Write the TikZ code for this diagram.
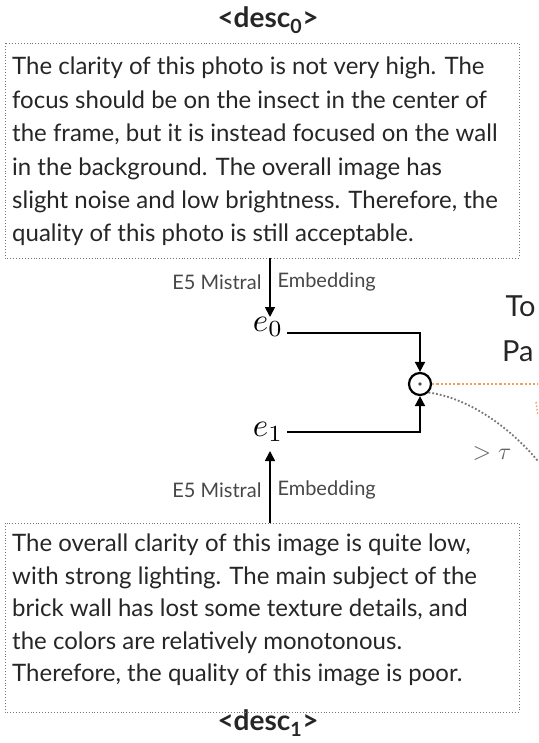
\documentclass[tikz,border=0pt]{standalone}
\usepackage{graphicx}
\usepackage{fontspec}
\setmainfont{Lato}
\usetikzlibrary{arrows.meta}
\definecolor{txt}{HTML}{262626}
\definecolor{brd}{HTML}{777777}
\definecolor{org}{HTML}{F0A060}
\begin{document}
\begin{tikzpicture}[x=1pt,y=-1pt,
  desctext/.style={anchor=north west, align=left, text=txt, inner sep=0pt},
  titletext/.style={font=\bfseries\fontsize{28}{30}\selectfont, text=txt},
  embtext/.style={font=\fontsize{20}{22}\selectfont, text=txt!85},
  conn/.style={draw=black, line width=1.7pt},
  tip/.style={-{Triangle[length=10pt,width=10pt]}},
  bigtxt/.style={font=\fontsize{29}{31}\selectfont, text=txt, anchor=west}]
\useasboundingbox (0,0) rectangle (538,743);
\clip (0,0) rectangle (538,743);
% titles
\node[titletext] (t0) at (268,20) {<desc\textsubscript{0}>};
\node[titletext] (t1) at (268,723) {<desc\textsubscript{1}>};
% boxes
\draw[draw=brd, dotted, line width=0.9pt] (5,43) rectangle (519,258);
\coordinate (b0) at (270,258);
\node[desctext, font=\fontsize{24}{33.4}\selectfont] (d0) at (12,57) {The clarity of this photo is not very high. The\\
focus should be on the insect in the center of\\
the frame, but it is instead focused on the wall\\
in the background. The overall image has\\
slight noise and low brightness. Therefore, the\\
quality of this photo is still acceptable.};
\draw[draw=brd, dotted, line width=0.9pt] (5,523) rectangle (519,712);
\coordinate (b1) at (270,523);
\node[desctext, font=\fontsize{24}{32.5}\selectfont] (d1) at (12,534) {The overall clarity of this image is quite low,\\
with strong lighting. The main subject of the\\
brick wall has lost some texture details, and\\
the colors are relatively monotonous.\\
Therefore, the quality of this image is poor.};
% vectors
\node (e0) at (268,327) {\scalebox{3.3}{$e_0$}};
\node (e1) at (268,432) {\scalebox{3.3}{$e_1$}};
\coordinate (e0t) at (270,317);
\coordinate (e1b) at (270,451);
\draw[conn, tip] (b0) -- (e0t);
\draw[conn, tip] (b1) -- (e1b);
\node[embtext, anchor=east] (l0a) at (265,282) {E5 Mistral};
\node[embtext, anchor=west] (l0b) at (274,282) {Embedding};
\node[embtext, anchor=east] (l1a) at (265,490) {E5 Mistral};
\node[embtext, anchor=west] (l1b) at (274,490) {Embedding};
% dot product
\node[draw=black, circle, line width=2.2pt, minimum size=22pt, inner sep=0pt] (dot) at (420,384) {};
\fill[black!70] (dot.center) circle (1.8pt);
\coordinate (e0r) at (287,333);
\coordinate (e1r) at (287,432);
\draw[conn, tip] (e0r) -| (dot.north);
\draw[conn, tip] (e1r) -| (dot.south);
% outgoing
\coordinate (oe) at (545,384);
\draw[org, dotted, line width=2.2pt] (dot.east) -- (oe);
\coordinate (ae) at (545,470);
\draw[brd, dotted, line width=1.8pt] (dot.south east) .. controls (470,398) and (515,430) .. (ae);
\node[text=black!60] (tau) at (492,453) {\scalebox{2.4}{$>\tau$}};
\node[bigtxt] (to) at (502,306) {To};
\node[bigtxt, anchor=east] (pa) at (537,351) {Pa};
\coordinate (om1) at (536,402);
\coordinate (om2) at (538,416);
\draw[org, line width=1.5pt, dotted] (om1) -- (om2);
\end{tikzpicture}
\end{document}
